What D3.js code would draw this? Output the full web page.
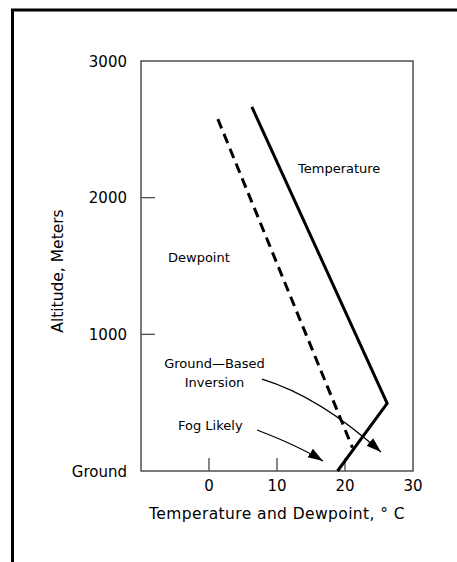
<!DOCTYPE html>
<html>
<head>
<meta charset="utf-8">
<script src="https://cdn.jsdelivr.net/npm/d3@7"></script>
<style>
  body { margin: 0; background: #fff; }
  text { font-family: "DejaVu Sans", sans-serif; fill: #000; }
</style>
</head>
<body>
<div id="chart"></div>
<script>
// profile of temperature and dewpoint near the ground
const tempC = [6.3, 26.2, 18.9];
const tempAlt = [2665, 495, 0];
const dewC = [1.3, 21.1];
const dewAlt = [2575, 170];

const xTicks = [0, 10, 20];
const xLabels = [0, 10, 20, 30];
const yTicks = [1000, 2000];
const yLabels = ["Ground", "1000", "2000", "3000"];
const yLabelVals = [0, 1000, 2000, 3000];

const width = 457, height = 562;

const svg = d3.select("#chart").append("svg")
    .attr("width", width)
    .attr("height", height);

// outer frame (runs off right/bottom)
svg.append("rect")
    .attr("x", 12.5).attr("y", 10)
    .attr("width", 470).attr("height", 570)
    .attr("fill", "none").attr("stroke", "#000").attr("stroke-width", 3);

const x = d3.scaleLinear().domain([-10, 30]).range([141, 413]);
const y = d3.scaleLinear().domain([0, 3000]).range([471, 61]);

// plot box
svg.append("rect")
    .attr("x", x(-10)).attr("y", y(3000))
    .attr("width", x(30) - x(-10)).attr("height", y(0) - y(3000))
    .attr("fill", "none").attr("stroke", "#444").attr("stroke-width", 1.4);

// inward ticks
svg.selectAll(".xt").data(xTicks).join("line")
    .attr("x1", d => x(d)).attr("x2", d => x(d))
    .attr("y1", y(0)).attr("y2", y(0) - 13)
    .attr("stroke", "#555").attr("stroke-width", 1.4);
svg.selectAll(".yt").data(yTicks).join("line")
    .attr("x1", x(-10)).attr("x2", x(-10) + 14)
    .attr("y1", d => y(d)).attr("y2", d => y(d))
    .attr("stroke", "#555").attr("stroke-width", 1.4);

// tick labels
svg.selectAll(".xl").data(xLabels).join("text")
    .attr("x", d => x(d)).attr("y", 491)
    .attr("text-anchor", "middle").attr("font-size", 15)
    .text(d => d);
svg.selectAll(".yl").data(yLabelVals).join("text")
    .attr("x", 127).attr("y", d => y(d) + 5.5)
    .attr("text-anchor", "end").attr("font-size", 15)
    .text((d, i) => yLabels[i]);

// axis titles
svg.append("text")
    .attr("x", 277).attr("y", 519)
    .attr("text-anchor", "middle").attr("font-size", 15.5)
    .attr("letter-spacing", 0.4)
    .text("Temperature and Dewpoint, \u00b0 C");
svg.append("text")
    .attr("transform", "translate(63,271) rotate(-90)")
    .attr("text-anchor", "middle").attr("font-size", 15.5)
    .text("Altitude, Meters");

const line = d3.line().x(d => x(d[0])).y(d => y(d[1]));

svg.append("path")
    .attr("d", line(d3.zip(dewC, dewAlt)))
    .attr("fill", "none").attr("stroke", "#000").attr("stroke-width", 3)
    .attr("stroke-dasharray", "10,6");

svg.append("path")
    .attr("d", line(d3.zip(tempC, tempAlt)))
    .attr("fill", "none").attr("stroke", "#000").attr("stroke-width", 3)
    .attr("stroke-linejoin", "miter");

// arrowhead
svg.append("defs").append("marker")
    .attr("id", "head")
    .attr("markerUnits", "userSpaceOnUse")
    .attr("viewBox", "0 -6 16 12")
    .attr("markerWidth", 16).attr("markerHeight", 12)
    .attr("refX", 15).attr("refY", 0)
    .attr("orient", "auto")
  .append("path")
    .attr("d", "M0,-5L15,0L0,5Z")
    .attr("fill", "#000");

// curved pointers: start, control, end in data units
const arrows = [
  [[7.79, 673], [16.25, 545], [25.29, 139]],
  [[7.06, 300], [13.29, 181], [16.76, 73]]
];
arrows.forEach(a => {
  const p = d3.path();
  p.moveTo(x(a[0][0]), y(a[0][1]));
  p.quadraticCurveTo(x(a[1][0]), y(a[1][1]), x(a[2][0]), y(a[2][1]));
  svg.append("path")
      .attr("d", p.toString())
      .attr("fill", "none").attr("stroke", "#000").attr("stroke-width", 1.3)
      .attr("marker-end", "url(#head)");
});

// annotations
const notes = [
  { t: "Temperature", x: 298, y: 173, a: "start" },
  { t: "Dewpoint", x: 168, y: 262, a: "start" },
  { t: "Ground\u2014Based", x: 214.5, y: 368, a: "middle" },
  { t: "Inversion", x: 214.5, y: 387, a: "middle" },
  { t: "Fog Likely", x: 178, y: 430, a: "start" }
];
svg.selectAll(".note").data(notes).join("text")
    .attr("x", d => d.x).attr("y", d => d.y)
    .attr("text-anchor", d => d.a).attr("font-size", 13)
    .text(d => d.t);
</script>
</body>
</html>
